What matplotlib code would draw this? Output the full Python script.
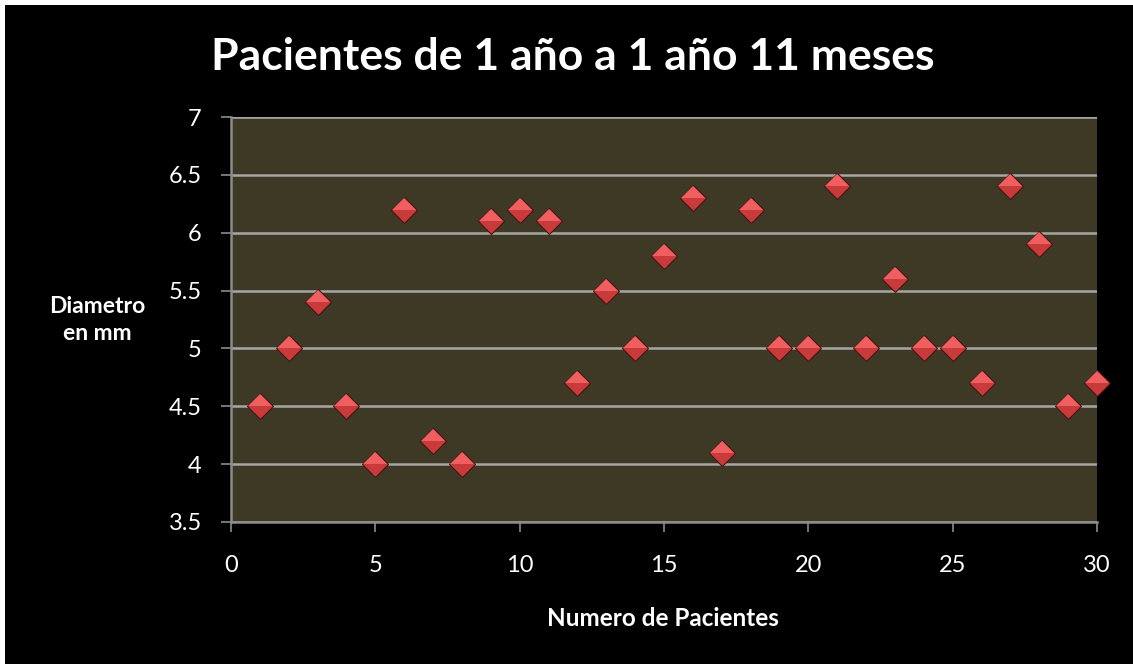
import matplotlib.pyplot as plt
from matplotlib.patches import Rectangle

# diametro por paciente (1 año a 1 año 11 meses)
pacientes = list(range(1, 31))
diametro = [4.5, 5.0, 5.4, 4.5, 4.0, 6.2, 4.2, 4.0, 6.1, 6.2,
            6.1, 4.7, 5.5, 5.0, 5.8, 6.3, 4.1, 6.2, 5.0, 5.0,
            6.4, 5.0, 5.6, 5.0, 5.0, 4.7, 6.4, 5.9, 4.5, 4.7]
x_ticks = [0, 5, 10, 15, 20, 25, 30]
y_ticks = [3.5, 4, 4.5, 5, 5.5, 6, 6.5, 7]
y_labels = ['3.5', '4', '4.5', '5', '5.5', '6', '6.5', '7']

plt.rcParams['font.family'] = ['Lato', 'DejaVu Sans']

fig = plt.figure(figsize=(11.33, 6.64), dpi=100, facecolor='white')
# fondo negro con un borde blanco arriba y a la izquierda
fig.patches.append(Rectangle((5 / 1133, 0), 1, 1 - 5 / 664, transform=fig.transFigure,
                             facecolor='black', edgecolor='none', zorder=-10))

ax = fig.add_axes([231 / 1133, 1 - 522 / 664, 866 / 1133, 405 / 664])
ax.set_facecolor('#3d3925')

# rombo: base oscura con borde, mitad superior mas clara encima
ax.plot(pacientes, diametro, linestyle='none', marker='D', markersize=13.5,
        markerfacecolor='#c93b3b', markeredgecolor='#4a1414', markeredgewidth=0.8,
        zorder=3, clip_on=False)
ax.plot(pacientes, diametro, linestyle='none', marker='D', markersize=12.5,
        fillstyle='top', markerfacecolor='#ef5f5f', markerfacecoloralt='none',
        markeredgewidth=0, zorder=4, clip_on=False)

ax.set_xlim(0, 30)
ax.set_ylim(3.5, 7)
ax.set_xticks(x_ticks)
ax.set_yticks(y_ticks)
ax.set_yticklabels(y_labels)
ax.grid(axis='y', color='#a6a6a6', linewidth=1.8)
ax.set_axisbelow(True)

for side in ['top', 'right']:
    ax.spines[side].set_visible(False)
for side in ['left', 'bottom']:
    ax.spines[side].set_color('#8c8c8c')
    ax.spines[side].set_linewidth(1.8)

ax.tick_params(colors='white', labelsize=17, length=7, width=1.2)
ax.tick_params(axis='x', color='#8c8c8c', pad=17)
ax.tick_params(axis='y', color='#8c8c8c', pad=14)

fig.text(573 / 1133, 1 - 57 / 664, 'Pacientes de 1 año a 1 año 11 meses',
         color='white', fontsize=32, fontweight='bold', ha='center', va='center')
fig.text(663 / 1133, 1 - 618 / 664, 'Numero de Pacientes',
         color='white', fontsize=17.5, fontweight='bold', ha='center', va='center')
fig.text(97 / 1133, 1 - 320 / 664, 'Diametro\nen mm',
         color='white', fontsize=16.5, fontweight='bold', ha='center', va='center',
         linespacing=1.35)

fig.savefig('out.png', dpi=100, facecolor=fig.get_facecolor())
